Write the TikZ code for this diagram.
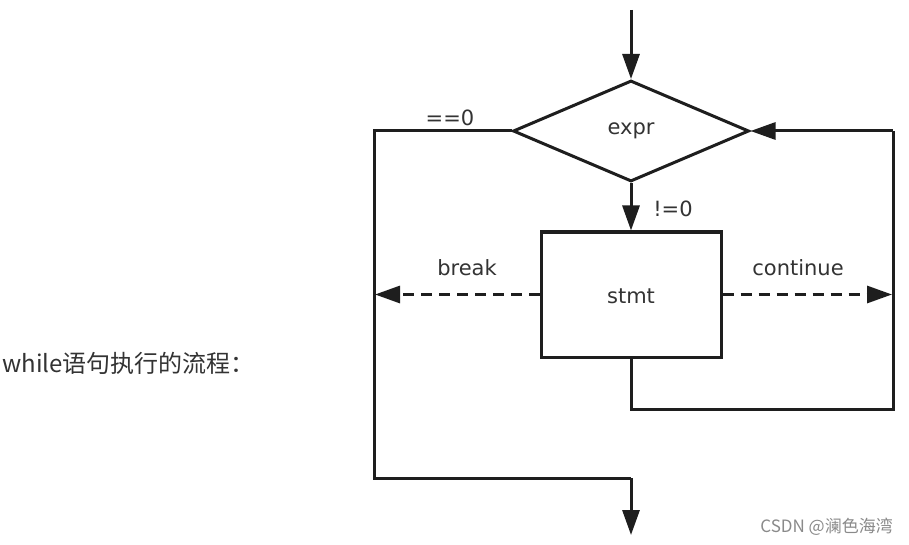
\documentclass[tikz,border=0pt]{standalone}
\usepackage{fontspec}
\setmainfont{DejaVu Sans}
\newfontfamily\cjk{Noto Sans CJK SC}
\usetikzlibrary{arrows.meta,shapes.geometric}
\definecolor{ln}{HTML}{1E1E1E}
\definecolor{tx}{HTML}{333333}
\definecolor{wm}{HTML}{8A8A8A}
\begin{document}
\begin{tikzpicture}[x=1pt,y=-1pt,
  line/.style={draw=ln,line width=3pt},
  arr/.style={line,-{Triangle[length=25pt,width=17pt]}},
  dsh/.style={arr,dash pattern=on 11pt off 7pt},
  lbl/.style={text=tx,font=\fontsize{21}{24}\selectfont,inner sep=0pt},
  dia/.style={diamond,line,aspect=2.34,minimum width=236pt,minimum height=101pt,inner sep=0pt},
  box/.style={rectangle,line,minimum width=180pt,minimum height=125pt,inner sep=0pt}]
\useasboundingbox[fill=white] (0,0) rectangle (909,545);
\node[dia] (d) at (631,131) {};
\node[lbl] (dt) at (631,131) {expr};
\node[box] (s) at (631,294.5) {};
\node[lbl] (st) at (631,296) {stmt};
\coordinate (top) at (631,10);
\coordinate (l1) at (374,131);
\coordinate (l2) at (374,478);
\coordinate (l3) at (631,478);
\coordinate (l4) at (631,535);
\coordinate (r0) at (631,409);
\coordinate (r1) at (893,409);
\coordinate (r2) at (893,131);
\coordinate (bk) at (375,294.5);
\coordinate (ct) at (892,294.5);
\draw[arr] (top) -- (d.north);
\draw[arr] (d.south) -- (s.north);
\draw[line] (d.west) -- (l1) -- (l2) -- (l3);
\draw[arr] (l3) -- (l4);
\draw[line] (s.south) -- (r0) -- (r1) -- (r2);
\draw[arr] (r2) -- (d.east);
\draw[dsh] (s.west) -- (bk);
\draw[dsh] (s.east) -- (ct);
\node[lbl] (eq) at (450,118) {==0};
\node[lbl] (ne) at (673,209) {!=0};
\node[lbl] (br) at (467,268) {break};
\node[lbl] (co) at (798,268) {continue};
\node[text=tx,font=\cjk\fontsize{24}{27}\selectfont,anchor=west,inner sep=0pt] (title) at (2,363) {while语句执行的流程：};
\node[text=wm,font=\cjk\fontsize{17}{20}\selectfont,anchor=east,inner sep=0pt] (wmk) at (893,527) {CSDN @澜色海湾};
\end{tikzpicture}
\end{document}
